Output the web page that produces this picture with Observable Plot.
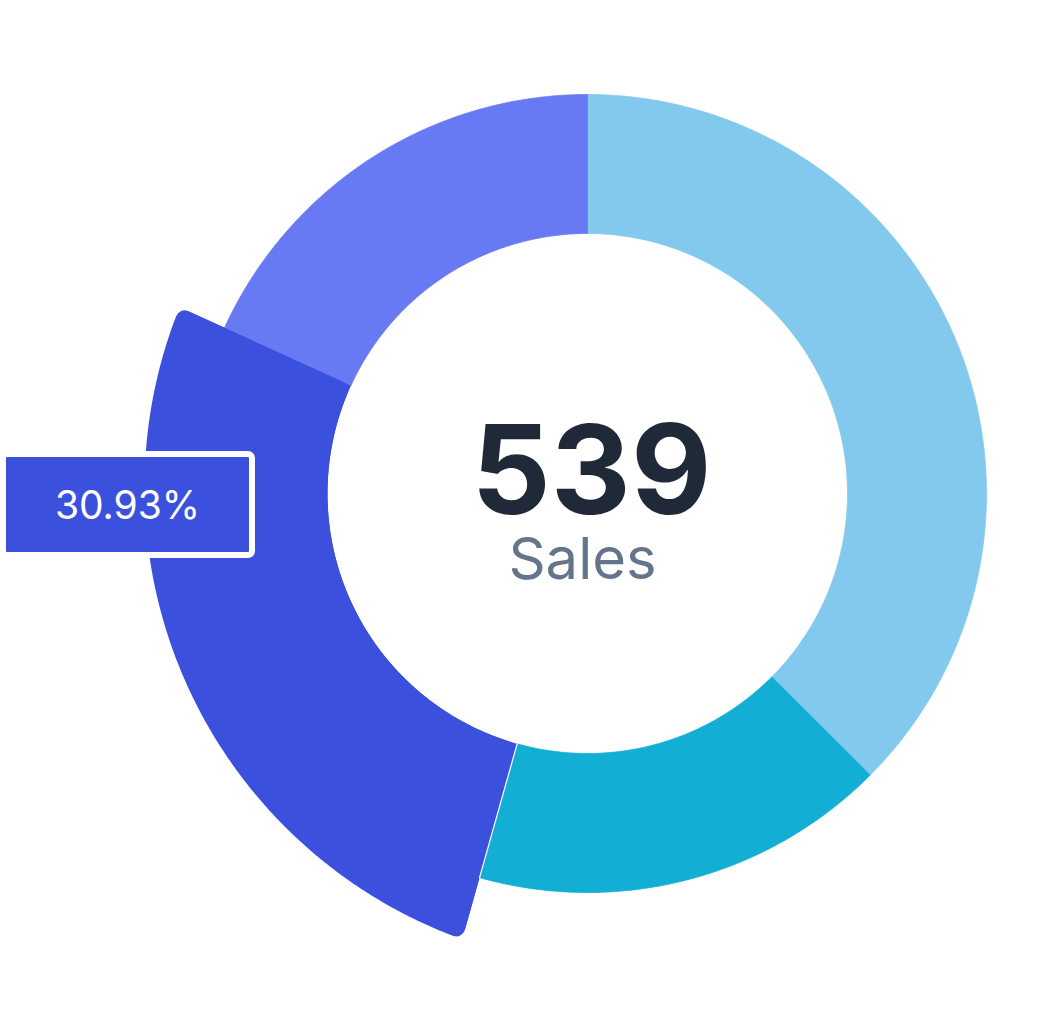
<!DOCTYPE html>
<html><head><meta charset="utf-8">
<script src="https://cdn.jsdelivr.net/npm/d3@7"></script>
<script src="https://cdn.jsdelivr.net/npm/@observablehq/plot@0.6"></script>
<style>
body{margin:0;background:#fff;font-family:Inter,"Noto Sans",sans-serif}
#chart{position:relative;width:1055px;height:1021px;overflow:hidden}
#tip{position:absolute;left:0;top:451px;width:255px;height:107px;box-sizing:border-box;border:6px solid #fff;border-radius:7px;background:#3C50DE;color:#fff;display:flex;align-items:center;justify-content:center;font:400 39px Inter,sans-serif}
</style>
</head><body><div id="chart"></div>
<script>
// ---- data ----
const categories = ["Segment 1", "Segment 2", "Segment 3", "Segment 4"];
const values = [202, 91, 148, 98];
const colors = ["#83C9ED", "#12AED3", "#3C50DE", "#6779F3"];
const highlighted = "Segment 3";
const tooltipText = "30.93%";
const totalLabel = "539";
const centerLabel = "Sales";

// ---- layout ----
const W = 1055, H = 1021, CX = 587, CY = 493;
const RI = 260, RO = 399, CR = 9;
// outer edge of the highlighted (expanded) slice: circle offset from the pie centre
const HI_OFF = {x: 37, y: -6}, HI_R = 480;

const rows = categories.map((c, i) => ({category: c, value: values[i], color: colors[i]}));
const pie = d3.pie().sort(null).value(d => d.value)(rows);
const pt = (r, a) => ({x: r * Math.sin(a), y: -r * Math.cos(a)});
function arc(rf, a0, a1) {
  const r = typeof rf === "function" ? rf : () => rf;
  const n = Math.max(2, Math.ceil(Math.abs(a1 - a0) * r(a0) / 3));
  return d3.range(n + 1).map(i => { const a = a0 + (a1 - a0) * i / n; return pt(r(a), a); });
}
const sector = (ri, ro, a0, a1) => [...arc(ro, a0, a1), ...arc(ri, a1, a0)];
// radius of the expanded outer edge along direction a
function hiRadius(a) {
  const ux = Math.sin(a), uy = -Math.cos(a);
  const uv = ux * HI_OFF.x + uy * HI_OFF.y;
  return uv + Math.sqrt(uv * uv + HI_R * HI_R - HI_OFF.x * HI_OFF.x - HI_OFF.y * HI_OFF.y);
}
function insetSector(ri, roFn, a0, a1, cr) {
  const r1 = ri + cr;
  const d1 = Math.asin(cr / r1);
  const rOut = a => roFn(a) - cr;
  const d2a = Math.asin(cr / rOut(a0)), d2b = Math.asin(cr / rOut(a1));
  return [...arc(rOut, a0 + d2a, a1 - d2b), ...arc(r1, a1 - d1, a0 + d1)];
}

const marks = [];
for (const p of pie) {
  if (p.data.category === highlighted) continue;
  marks.push(Plot.line(sector(RI, RO, p.startAngle, p.endAngle), {
    x: "x", y: "y", curve: "linear-closed", fill: p.data.color, stroke: p.data.color, strokeWidth: 0.8
  }));
}
const hi = pie.find(p => p.data.category === highlighted);
marks.push(Plot.line(sector(RI, a => hiRadius(a) - CR, hi.startAngle, hi.endAngle), {
  x: "x", y: "y", curve: "linear-closed", fill: hi.data.color, stroke: "none"
}));
marks.push(Plot.line(insetSector(RI, hiRadius, hi.startAngle, hi.endAngle, CR), {
  x: "x", y: "y", curve: "linear-closed", fill: hi.data.color, stroke: hi.data.color,
  strokeWidth: 2 * CR, strokeLinejoin: "round"
}));
marks.push(Plot.line([pt(RI, hi.startAngle), pt(RO, hi.startAngle)], {
  x: "x", y: "y", stroke: "#ffffff", strokeWidth: 1.2
}));
marks.push(Plot.text([totalLabel], {
  x: 0, y: 0, text: d => d, fontSize: 124, fontWeight: 700, fill: "#1F2937",
  textAnchor: "middle", lineAnchor: "middle", dy: -19, dx: 4, fontFamily: "Inter", letterSpacing: -10
}));
marks.push(Plot.text([centerLabel], {
  x: 0, y: 0, text: d => d, fontSize: 58, fontWeight: 400, fill: "#64748B",
  textAnchor: "middle", lineAnchor: "middle", dy: 67, dx: -5, fontFamily: "Inter", letterSpacing: -2.5
}));

const chart = Plot.plot({
  width: W, height: H, margin: 0,
  x: {domain: [-CX, W - CX], range: [0, W], axis: null},
  y: {domain: [-CY, H - CY], range: [0, H], axis: null},
  style: {background: "transparent", overflow: "visible"},
  marks
});
const host = document.getElementById("chart");
host.appendChild(chart);
const tip = document.createElement("div");
tip.id = "tip";
tip.textContent = tooltipText;
host.appendChild(tip);
</script>
</body></html>
